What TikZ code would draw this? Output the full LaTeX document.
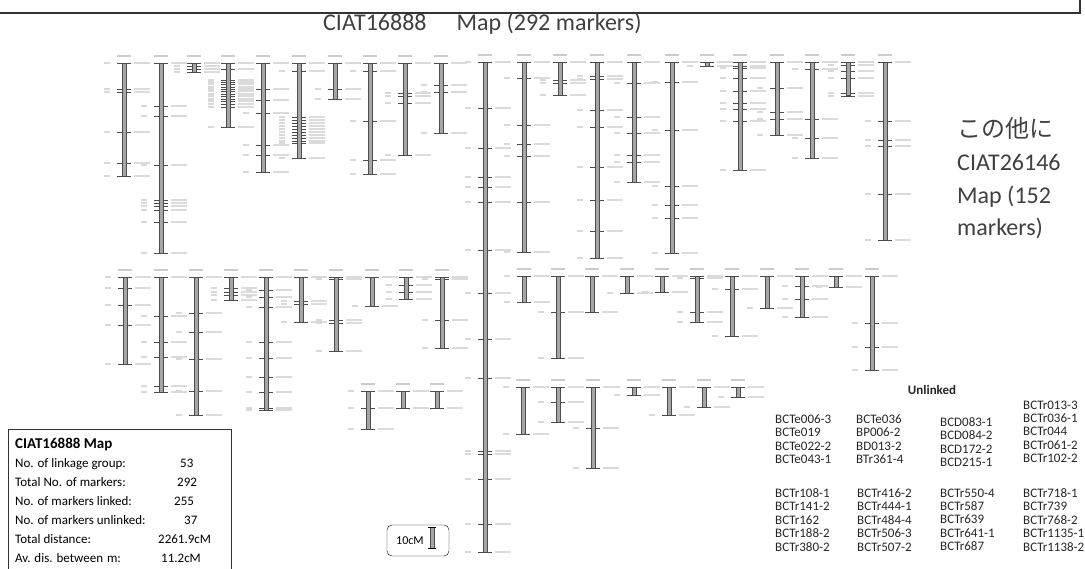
\documentclass[tikz,border=0pt]{standalone}
\usepackage{fontspec}
\setmainfont{Carlito}
\newfontfamily\jpfont{Noto Sans CJK JP}
\usetikzlibrary{positioning}

\definecolor{inkgray}{HTML}{404040}

\tikzset{
    lgbar/.style={fill=gray!70, draw=black!70, line width=0.3pt},
    marktick/.style={draw=black!70, line width=0.4pt},
    posblur/.style={draw=gray!30, line width=1.6pt},
    nameblur/.style={draw=gray!28, line width=1.8pt},
    grouptag/.style={draw=gray!40, line width=1.8pt},
}

%% one linkage group: x, top, bottom, marker positions
\newcommand{\linkgroup}[4]{%
  \draw[grouptag] (#1-7,#2-7) -- (#1+7,#2-7);
  \foreach \t in {#4}{%
    \draw[marktick] (#1-7,\t) -- (#1+7,\t);
    \draw[posblur]  (#1-20,\t) -- (#1-14,\t);
    \draw[nameblur] (#1+10,\t) -- (#1+26,\t);
  }
  \draw[lgbar] (#1-2,#2) rectangle (#1+2,#3);
}

\begin{document}
\begin{tikzpicture}[
    x=1pt, y=-1pt,
    title/.style={font=\fontsize{24}{29}\selectfont, text=inkgray, inner sep=0pt},
    stat/.style={font=\fontsize{13}{15}\selectfont, inner sep=0pt, anchor=base west},
    unl/.style={font=\fontsize{13}{13.4}\selectfont, text=black!85, align=left,
                inner sep=0pt, anchor=north west},
    scalebox/.style={draw, rounded corners=5pt, minimum width=62pt, minimum height=31pt},
]
\useasboundingbox (0,0) rectangle (1085,569);

%% ---- frame left over from the slide above ----
\draw[gray!40!black, line width=1.2pt] (0,13) -- (1080,13) -- (1080,0);

%% ---- title ----
\node[title, anchor=base west] (maptitle) at (323,31) {CIAT16888\hspace{30pt}Map (292 markers)};

%% ---- row 1, left block ----
\linkgroup{124}{63}{176}{63,89,92,132,163,176}
\linkgroup{161}{63}{253}{63,106,116,165,200,203,206,210,222,253}
\linkgroup{194}{63}{72}{63,66,69,72}
\linkgroup{228}{63}{127}{63,69,80,82,84,87,89,91,94,96,99,101,104,107,127}
\linkgroup{263}{63}{172}{63,89,100,113,145,155,172}
\linkgroup{299}{63}{158}{63,71,117,120,123,126,129,132,135,138,141,143,158}
\linkgroup{335}{63}{99}{63,89,99}
\linkgroup{370}{63}{174}{63,71,121,160,174}
\linkgroup{405}{63}{155}{63,93,96,103,155}
\linkgroup{441}{63}{133}{63,85,92,133}

%% ---- long group 1 ----
\linkgroup{485}{62}{552}{62,108,148,177,187,202,250,293,339,378,451,454,479,524,552}

%% ---- row 1, right block ----
\linkgroup{524}{62}{252}{62,78,125,144,156,202,252}
\linkgroup{560}{62}{95}{62,80,83,95}
\linkgroup{597}{62}{258}{62,76,79,110,127,167,200,231,258}
\linkgroup{634}{62}{182}{62,83,117,133,155,162,182}
\linkgroup{672}{62}{253}{62,82,130,186,205,218,253}
\linkgroup{707}{62}{66}{62,66}
\linkgroup{740}{62}{170}{62,66,68,78,91,103,109,121,170}
\linkgroup{777}{62}{135}{62,88,112,119,135}
\linkgroup{812}{62}{158}{62,69,119,138,158}
\linkgroup{848}{62}{95}{62,65,71,78,93,96}
\linkgroup{885}{62}{240}{62,121,140,146,194,240}

%% ---- row 2, left block ----
\linkgroup{125}{277}{364}{277,288,305,325,364}
\linkgroup{161}{277}{392}{277,316,342,357,386,392}
\linkgroup{196}{277}{415}{277,313,332,359,391,415}
\linkgroup{231}{277}{300}{277,288,292,295,300}
\linkgroup{266}{277}{410}{277,290,297,307,342,358,377,392,408,410}
\linkgroup{301}{277}{322}{277,301,304,322}
\linkgroup{336}{277}{351}{277,279,320,323,351}
\linkgroup{372}{277}{306}{277,306}
\linkgroup{406}{277}{299}{277,285,292,299}
\linkgroup{442}{277}{348}{277,279,320,348}

%% ---- row 3, left block ----
\linkgroup{368}{391}{429}{391,408,429}
\linkgroup{403}{391}{408}{391,408}
\linkgroup{437}{391}{408}{391,408}

%% ---- row 2, right block ----
\linkgroup{524}{276}{302}{276,302}
\linkgroup{558}{276}{358}{276,312,358}
\linkgroup{592}{276}{312}{276,312}
\linkgroup{627}{276}{293}{276,293}
\linkgroup{662}{276}{292}{276,292}
\linkgroup{697}{276}{322}{276,278,312,322}
\linkgroup{732}{276}{336}{276,289,336}
\linkgroup{767}{276}{308}{276,308}
\linkgroup{802}{276}{317}{276,286,299,317}
\linkgroup{836}{276}{287}{276,287}
\linkgroup{872}{276}{370}{276,323,347,370}

%% ---- row 3, right block ----
\linkgroup{523}{387}{434}{387,434}
\linkgroup{558}{387}{422}{387,402,422}
\linkgroup{593}{387}{468}{387,428,468}
\linkgroup{634}{387}{395}{387,395}
\linkgroup{669}{387}{415}{387,415}
\linkgroup{704}{387}{407}{387,407}
\linkgroup{738}{387}{397}{387,397}

%% ---- second map note ----
\node[title, anchor=base west] (other)  at (957,138) {\jpfont この他に};
\node[title, anchor=base west] (other2) at (957,171) {CIAT26146};
\node[title, anchor=base west] (other3) at (957,204) {Map (152};
\node[title, anchor=base west] (other4) at (957,236) {markers)};

%% ---- summary box ----
\draw[black!80, line width=0.8pt] (8,575) |- (231,429) -- (231,575);
\node[stat, font=\fontsize{15}{17}\selectfont\bfseries] (sumhead) at (15,448) {CIAT16888 Map};
\node[stat] (nlg)  at (15,467) {No. of linkage group:};
\node[stat] (nlgv) at (180,467) {53};
\node[stat] (ntm)  at (15,486) {Total No. of markers:};
\node[stat] (ntmv) at (177,486) {292};
\node[stat] (nml)  at (15,505) {No. of markers linked:};
\node[stat] (nmlv) at (174,505) {255};
\node[stat] (nmu)  at (15,524) {No. of markers unlinked:};
\node[stat] (nmuv) at (184,524) {37};
\node[stat] (tdis) at (15,543) {Total distance:};
\node[stat] (tdisv) at (158,543) {2261.9cM};
\node[stat] (avd)  at (15,562) {Av. dis. between\hspace{4pt}m:};
\node[stat] (avdv) at (161,562) {11.2cM};

%% ---- 10 cM scale ----
\node[scalebox] (scale) at (418,540.5) {};
\node[stat, font=\fontsize{12}{14}\selectfont] (scaletxt) at (396,544) {10cM};
\draw[fill=gray!70, draw=black!70, line width=0.3pt] (430,527) rectangle (434,548);
\draw[line width=0.8pt] (428,527) -- (436,527) (428,548) -- (436,548);

%% ---- unlinked markers ----
\node[font=\fontsize{13}{15}\selectfont\bfseries, text=black!85, inner sep=0pt, anchor=base]
    (unlinked) at (932,395) {Unlinked};
\node[unl] (te)  at (775,414.5) {BCTe006-3\\BCTe019\\BCTe022-2\\BCTe043-1};
\node[unl] (bp)  at (856,414.5) {BCTe036\\BP006-2\\BD013-2\\BTr361-4};
\node[unl] (bcd) at (940,417.5) {BCD083-1\\BCD084-2\\BCD172-2\\BCD215-1};
\node[unl] (tr0) at (1023,400.5) {BCTr013-3\\BCTr036-1\\BCTr044\\BCTr061-2\\BCTr102-2};
\node[unl] (tr1) at (775,488.5) {BCTr108-1\\BCTr141-2\\BCTr162\\BCTr188-2\\BCTr380-2};
\node[unl] (tr4) at (857,488.5) {BCTr416-2\\BCTr444-1\\BCTr484-4\\BCTr506-3\\BCTr507-2};
\node[unl] (tr5) at (940,488.5) {BCTr550-4\\BCTr587\\BCTr639\\BCTr641-1\\BCTr687};
\node[unl] (tr7) at (1023,488.5) {BCTr718-1\\BCTr739\\BCTr768-2\\BCTr1135-1\\BCTr1138-2};

\end{tikzpicture}
\end{document}
